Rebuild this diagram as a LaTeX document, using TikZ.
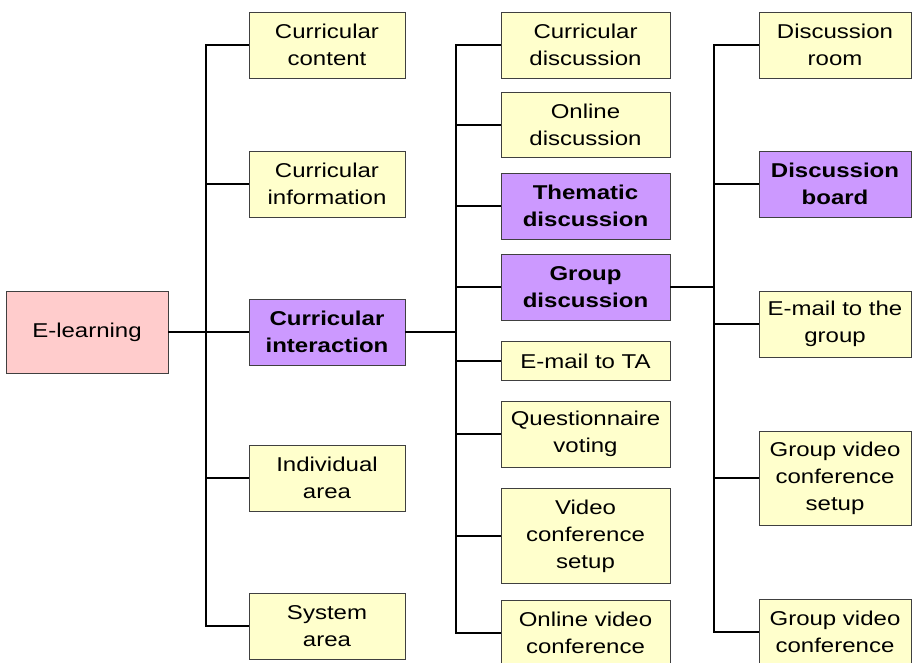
\documentclass[tikz,border=0pt]{standalone}
\usepackage{fontspec}
\setmainfont{Liberation Sans}[FakeStretch=1.2]
\definecolor{ylw}{HTML}{FFFFCC}
\definecolor{pur}{HTML}{CC99FF}
\definecolor{pnk}{HTML}{FFCCCC}
\tikzset{
  box/.style={draw=black!75, line width=0.8pt, inner sep=0pt, align=center,
    font=\fontsize{20}{27}\selectfont, minimum height=66pt},
  ybox/.style={box, fill=ylw},
  pbox/.style={box, fill=pur, font=\fontsize{20}{27}\selectfont\bfseries},
  c1/.style={minimum width=156pt},
  c2/.style={minimum width=169pt},
  c3/.style={minimum width=152pt},
  conn/.style={line width=1.3pt, black}
}
\begin{document}
\begin{tikzpicture}[x=1pt,y=-1pt]
\useasboundingbox (0,0) rectangle (912,662);
\coordinate (j1) at (206,0);
\coordinate (j2) at (456,0);
\coordinate (j3) at (714,0);
% root
\node[box, fill=pnk, minimum width=162pt, minimum height=82pt] (root) at (87,332) {E-learning};
% column 1
\node[ybox,c1] (cc) at (327,45) {Curricular\\content};
\node[ybox,c1] (cinfo) at (327,184) {Curricular\\information};
\node[pbox,c1] (cint) at (327,332) {Curricular\\interaction};
\node[ybox,c1] (ia) at (327,478) {Individual\\area};
\node[ybox,c1] (sa) at (327,626) {System\\area};
% column 2
\node[ybox,c2] (cd) at (585.5,45) {Curricular\\discussion};
\node[ybox,c2,minimum height=65pt] (od) at (585.5,125) {Online\\discussion};
\node[pbox,c2] (td) at (585.5,206) {Thematic\\discussion};
\node[pbox,c2] (gd) at (585.5,287) {Group\\discussion};
\node[ybox,c2,minimum height=39pt] (et) at (585.5,361) {E-mail to TA};
\node[ybox,c2] (qv) at (585.5,434) {Questionnaire\\voting};
\node[ybox,c2,minimum height=95pt] (vcs) at (585.5,536) {Video\\conference\\setup};
\node[ybox,c2] (ovc) at (585.5,633) {Online video\\conference};
% column 3
\node[ybox,c3] (dr) at (835,45) {Discussion\\room};
\node[pbox,c3] (db) at (835,184) {Discussion\\board};
\node[ybox,c3] (eg) at (835,324) {E-mail to the\\group};
\node[ybox,c3,minimum height=94pt] (gvcs) at (835,478) {Group video\\conference\\setup};
\node[ybox,c3] (gvc) at (835,632) {Group video\\conference};
% connectors column 1
\draw[conn] (root.east) -- (cint.west);
\draw[conn] (cc.west) -- (cc.west -| j1) -- (sa.west -| j1) -- (sa.west);
\draw[conn] (cinfo.west) -- (cinfo.west -| j1);
\draw[conn] (ia.west) -- (ia.west -| j1);
% connectors column 2
\draw[conn] (cint.east) -- (cint.east -| j2);
\draw[conn] (cd.west) -- (cd.west -| j2) -- (ovc.west -| j2) -- (ovc.west);
\foreach \n in {od,td,gd,et,qv,vcs} \draw[conn] (\n.west) -- (\n.west -| j2);
% connectors column 3
\draw[conn] (gd.east) -- (gd.east -| j3);
\draw[conn] (dr.west) -- (dr.west -| j3) -- (gvc.west -| j3) -- (gvc.west);
\foreach \n in {db,eg,gvcs} \draw[conn] (\n.west) -- (\n.west -| j3);
\end{tikzpicture}
\end{document}
